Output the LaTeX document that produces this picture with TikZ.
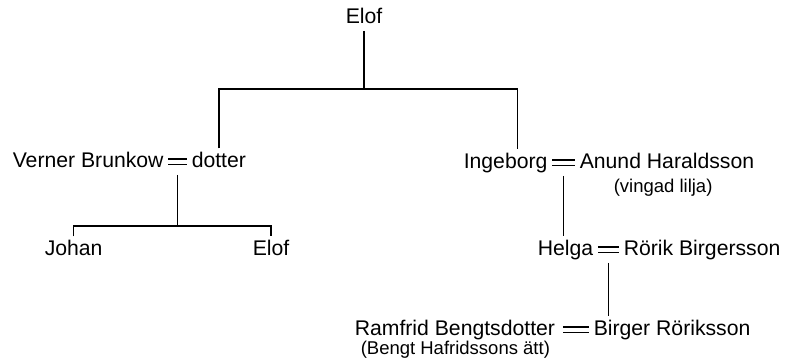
\documentclass[tikz,border=0pt]{standalone}
\usepackage{fontspec}
\setmainfont{Liberation Sans}
\usetikzlibrary{positioning}

\begin{document}
\begin{tikzpicture}[x = 1pt, y = -1pt, % pixel units, y grows downwards
                line width = 1.5pt, % line style
                font = {\fontsize{21.2}{25}\selectfont}
            ]

            \tikzstyle{every node}=[anchor = base west, inner sep = 2pt,
            text height = 16pt, text depth = 5pt]
            \tikzstyle{note}=[font = {\fontsize{18.5}{22}\selectfont}]
            \tikzstyle{wed}=[double, double distance = 4pt, line width = 1.1pt,
            shorten < = 2pt, shorten > = 2pt]

            \useasboundingbox (0,0) rectangle (790,362);

            \node (top) at (343,23) {Elof};
            \node (vb) at (10,167) {Verner Brunkow}; \node (dot) at (189,167) {dotter};
            \node (ing) at (461,168) {Ingeborg}; \node (anund) at (577,168) {Anund Haraldsson};
            \node[note] (lilja) at (611,192) {(vingad lilja)};
            \node (johan) at (42,255) {Johan}; \node (elof) at (250,255) {Elof};
            \node (helga) at (535,255) {Helga}; \node (rorik) at (621,255) {Rörik Birgersson};
            \node (ramfrid) at (352,335) {Ramfrid Bengtsdotter};
            \node (birger) at (591,335) {Birger Röriksson};
            \node[note] (bengt) at (358,354) {(Bengt Hafridssons ätt)};

            % marriages
            \draw[wed] (vb.east) -- coordinate (m1) (dot.west);
            \draw[wed] (ing.east) -- coordinate (m2) (anund.west);
            \draw[wed] (helga.east) -- coordinate (m3) (rorik.west);
            \draw[wed, shorten < = 5pt] (ramfrid.east) -- (birger.west);

            % descent
            \coordinate (bar0) at (top.south |- 0,89);
            \coordinate (bar1) at (m1 |- 0,226);
            \draw (top.south) -- (bar0);
            \draw (dot.north) |- (bar0) -| ([xshift=12pt]ing.north);
            \draw (m1 |- vb.south) -- (bar1);
            \draw (johan.north) |- (bar1) -| (elof.north);
            \draw (m2 |- ing.south) -- (m2 |- helga.north);
            \draw (m3 |- helga.south) -- (m3 |- birger.north);
        \end{tikzpicture}
\end{document}
